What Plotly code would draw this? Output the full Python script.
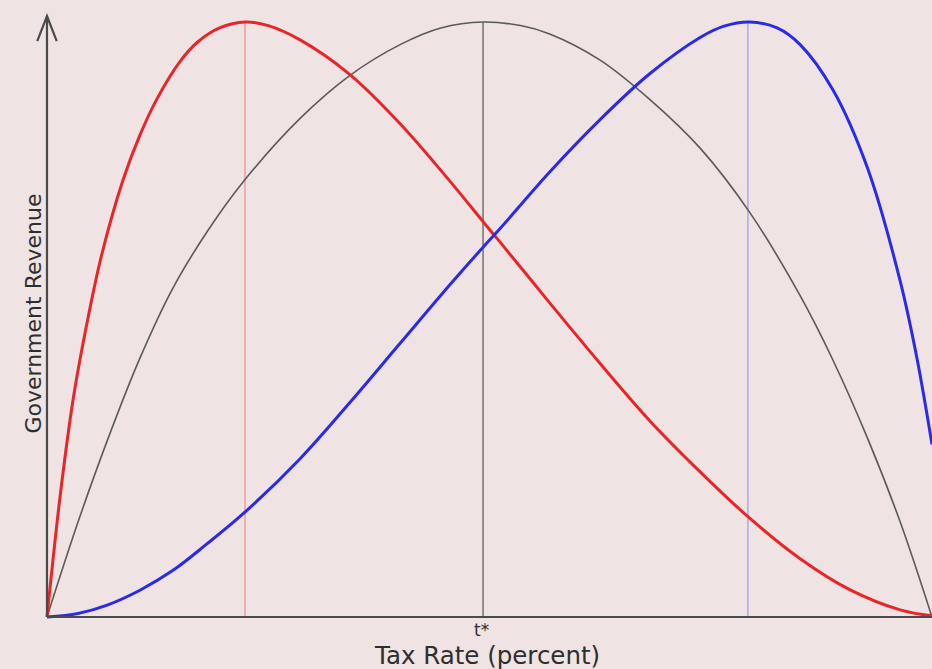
import plotly.graph_objects as go

# Tax rate (percent) sample positions and government revenue (percent of peak)
red_x = [0, 1.5, 3.0, 4.6, 6.2, 8.6, 10.5, 12.4, 15.0, 17.0, 19.5, 22.4, 25.0, 28.6, 34.2,
         39.9, 45.5, 49.3, 51.2, 56.8, 62.5, 68.1, 73.8, 79.4, 85.1, 90.7, 96.4, 100]
red_y = [0, 20.5, 37.0, 50.0, 61.0, 73.5, 81.0, 87.0, 93.3, 96.6, 99.0, 100, 99.4, 97.0, 91.2,
         82.9, 73.3, 66.4, 63.0, 52.8, 42.6, 33.0, 24.4, 16.6, 9.8, 4.6, 1.2, 0.2]

gray_x = [0, 3.4, 6.8, 10.5, 14.2, 18.2, 22.2, 28.6, 34.2, 39.9, 44.5, 49.3, 53.5, 56.8, 62.5,
          68.1, 73.8, 79.4, 85.1, 88.8, 92.7, 96.4, 100]
gray_y = [0, 15.5, 29.6, 43.5, 55.2, 65.0, 73.2, 83.8, 91.0, 96.2, 99.0, 100, 99.4, 98.0, 93.6,
          87.0, 78.8, 68.0, 54.0, 43.2, 30.1, 16.0, 0]

blue_x = [0, 3.5, 6.8, 10.5, 14.2, 18.0, 22.2, 28.6, 34.2, 39.9, 45.5, 49.3, 51.2, 56.8, 62.5,
          68.1, 73.8, 76.5, 79.4, 82.5, 85.1, 88.8, 92.7, 96.4, 98.3, 100]
blue_y = [0, 0.6, 2.0, 4.5, 7.8, 12.2, 17.4, 26.6, 36.0, 46.0, 55.8, 62.2, 65.3, 74.8, 83.6,
          91.3, 97.4, 99.3, 100, 99.0, 96.2, 88.6, 75.5, 56.5, 43.5, 29.0]

# revenue-maximising tax rates (peaks) for each curve
peak_x = [22.37, 49.27, 79.2]
peak_colors = ["#f08a8a", "#555555", "#9a9af0"]
tick_labels = ["t*"]

bg = "#efe3e3"
fig = go.Figure()

# vertical lines at the peaks
for px, pc in zip(peak_x, peak_colors):
    fig.add_trace(go.Scatter(x=[px, px], y=[0, 100], mode="lines",
                             line=dict(color=pc, width=1.2), hoverinfo="skip", showlegend=False))

fig.add_trace(go.Scatter(x=gray_x, y=gray_y, mode="lines",
                         line=dict(color="#5a5a5a", width=1.6, shape="spline", smoothing=1.0),
                         showlegend=False))
fig.add_trace(go.Scatter(x=red_x, y=red_y, mode="lines",
                         line=dict(color="#e8262a", width=3, shape="spline", smoothing=1.0),
                         showlegend=False))
fig.add_trace(go.Scatter(x=blue_x, y=blue_y, mode="lines",
                         line=dict(color="#2a2ae8", width=3, shape="spline", smoothing=1.0),
                         showlegend=False))

axis_col = "#4a4a4a"
# axes
fig.add_shape(type="line", x0=0, x1=100, y0=0, y1=0, line=dict(color=axis_col, width=2.2))
fig.add_shape(type="line", x0=0, x1=0, y0=0, y1=101.0, line=dict(color=axis_col, width=2.2))
# arrowhead on y axis
fig.add_shape(type="path", path="M -1.1,96.8 L 0,101.0 L 1.1,96.8",
              line=dict(color=axis_col, width=2.2))

font = "DejaVu Sans"
fig.add_annotation(x=peak_x[1] - 0.2, y=-0.2, text=tick_labels[0], showarrow=False,
                   yanchor="top", xanchor="center",
                   font=dict(family=font, size=17, color="#2e2e2e"))
fig.add_annotation(x=49.7, y=-6.4, text="Tax Rate (percent)", showarrow=False,
                   yanchor="middle", xanchor="center",
                   font=dict(family=font, size=24.5, color="#2e2e2e"))
fig.add_annotation(x=(34 - 47) / 8.85, y=51.0, text="Government Revenue", showarrow=False,
                   textangle=-90, yanchor="middle", xanchor="center",
                   font=dict(family=font, size=22, color="#2e2e2e"))

fig.update_layout(
    width=932, height=669,
    margin=dict(l=0, r=0, t=0, b=0),
    paper_bgcolor=bg, plot_bgcolor=bg,
    xaxis=dict(range=[-5.31, 100], visible=False, fixedrange=True),
    yaxis=dict(range=[-8.74, 103.7], visible=False, fixedrange=True),
    showlegend=False,
)

fig.write_html(
    "out.html",
    config={"displayModeBar": False},
    post_script="document.body.style.margin='0';document.body.style.overflow='hidden';"
                "document.documentElement.style.background='" + bg + "';",
)
